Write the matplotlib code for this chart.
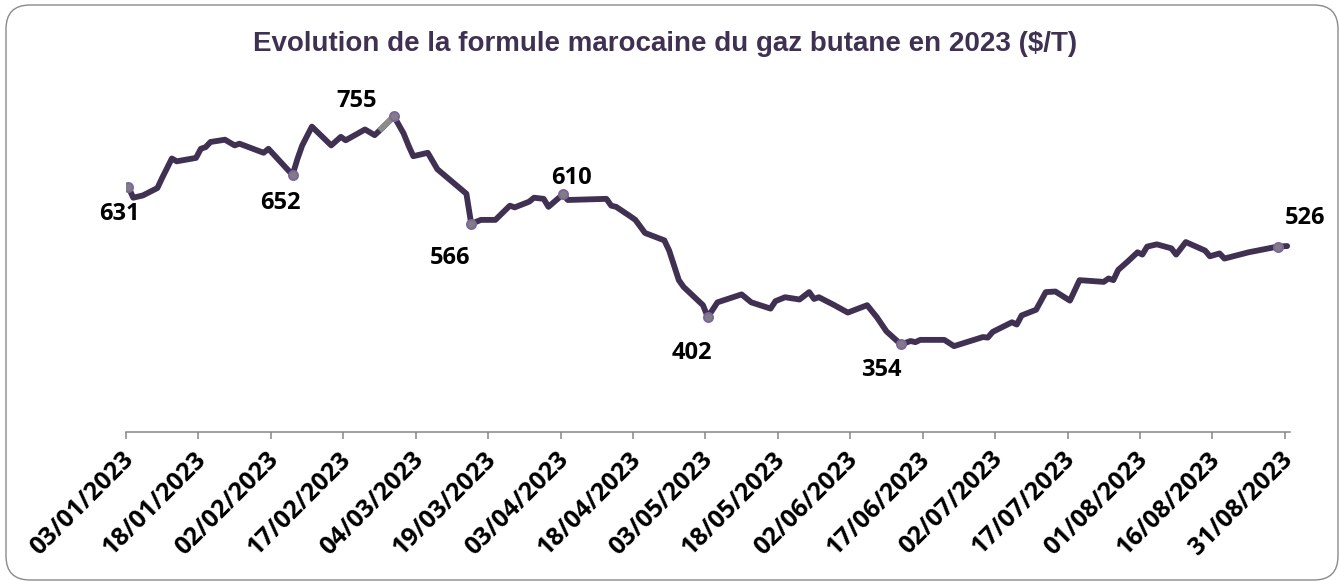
import matplotlib
matplotlib.use("Agg")
import matplotlib.pyplot as plt
from matplotlib.patches import FancyBboxPatch
from matplotlib.transforms import IdentityTransform, ScaledTranslation
import pandas as pd

title = "Evolution de la formule marocaine du gaz butane en 2023 ($/T)"

dates = [
    "03/01/2023", "04/01/2023", "06/01/2023", "09/01/2023", "10/01/2023", "12/01/2023",
    "13/01/2023", "17/01/2023", "18/01/2023", "19/01/2023", "20/01/2023", "23/01/2023",
    "25/01/2023", "26/01/2023", "31/01/2023", "01/02/2023", "06/02/2023", "07/02/2023",
    "08/02/2023", "10/02/2023", "14/02/2023", "16/02/2023", "17/02/2023", "21/02/2023",
    "23/02/2023", "24/02/2023", "27/02/2023", "01/03/2023", "02/03/2023", "03/03/2023",
    "06/03/2023", "08/03/2023", "14/03/2023", "15/03/2023", "17/03/2023", "20/03/2023",
    "23/03/2023", "24/03/2023", "27/03/2023", "28/03/2023", "30/03/2023", "31/03/2023",
    "03/04/2023", "04/04/2023", "12/04/2023", "13/04/2023", "14/04/2023", "17/04/2023",
    "18/04/2023", "20/04/2023", "24/04/2023", "25/04/2023", "27/04/2023", "28/04/2023",
    "02/05/2023", "03/05/2023", "05/05/2023", "10/05/2023", "12/05/2023", "16/05/2023",
    "17/05/2023", "19/05/2023", "22/05/2023", "24/05/2023", "25/05/2023", "26/05/2023",
    "29/05/2023", "01/06/2023", "05/06/2023", "07/06/2023", "09/06/2023", "12/06/2023",
    "14/06/2023", "15/06/2023", "16/06/2023", "21/06/2023", "23/06/2023", "29/06/2023",
    "30/06/2023", "01/07/2023", "05/07/2023", "06/07/2023", "07/07/2023", "10/07/2023",
    "12/07/2023", "14/07/2023", "17/07/2023", "19/07/2023", "24/07/2023", "25/07/2023",
    "26/07/2023", "27/07/2023", "29/07/2023", "31/07/2023", "01/08/2023", "02/08/2023",
    "04/08/2023", "07/08/2023", "08/08/2023", "10/08/2023", "14/08/2023", "15/08/2023",
    "17/08/2023", "18/08/2023", "23/08/2023", "29/08/2023", "31/08/2023",
]
values = [
    631, 612, 616, 629, 647, 681,
    676, 682, 698, 701, 710, 714,
    704, 707, 691, 698, 652, 680,
    704, 737, 704, 719, 713, 732,
    722, 730, 755, 725, 704, 685,
    691, 662, 619, 566, 573, 573,
    598, 595, 605, 612, 610, 596,
    618, 608, 610, 598, 596, 579,
    573, 550, 537, 519, 467, 455,
    423, 402, 428, 442, 428, 417,
    430, 437, 433, 446, 434, 437,
    424, 410, 423, 402, 377, 354,
    360, 358, 362, 362, 351, 367,
    366, 376, 393, 389, 405, 415,
    446, 447, 431, 467, 464, 470,
    467, 485, 500, 516, 512, 526,
    530, 523, 512, 534, 519, 509,
    514, 505, 516, 526, 527,
]

label_dates = ["03/01/2023", "06/02/2023", "27/02/2023", "15/03/2023",
               "03/04/2023", "03/05/2023", "12/06/2023", "29/08/2023"]
label_texts = ["631", "652", "755", "566", "610", "402", "354", "526"]
label_offsets = [(-9, -27), (-12, -28), (-37, 15), (-21, -34),
                 (8, 16), (-16, -36), (-20, -26), (28, 29)]

tick_dates = ["03/01/2023", "18/01/2023", "02/02/2023", "17/02/2023", "04/03/2023",
              "19/03/2023", "03/04/2023", "18/04/2023", "03/05/2023", "18/05/2023",
              "02/06/2023", "17/06/2023", "02/07/2023", "17/07/2023", "01/08/2023",
              "16/08/2023", "31/08/2023"]

line_color = "#403152"
axis_color = "#868686"
label_font = "Open Sans"

fig = plt.figure(figsize=(13.39, 5.81), dpi=100)
W, H = 1339, 581
ax = fig.add_axes([126 / W, (H - 432) / H, (1289.6 - 126) / W, (432 - 90.8) / H])

half = pd.Timedelta(hours=12)
x = pd.to_datetime(dates, format="%d/%m/%Y") + half
s = pd.Series(values, index=x)

ax.plot(s.index, s.values, color=line_color, lw=4.2, solid_capstyle="round",
        solid_joinstyle="round", zorder=3)

# gray segment leading to the peak
i_peak = dates.index("27/02/2023")
ax.plot(s.index[i_peak - 1:i_peak + 1], s.values[i_peak - 1:i_peak + 1],
        color="#8c8c8c", lw=4.2, solid_capstyle="butt", zorder=4)

for d, t, off in zip(label_dates, label_texts, label_offsets):
    xd = pd.to_datetime(d, format="%d/%m/%Y") + half
    yv = values[dates.index(d)]
    ax.plot([xd], [yv], marker="o", ms=6.5, mfc="#7f7f7f", mec="#8064a2",
            mew=1.4, zorder=5)
    ax.annotate(t, (xd, yv), xytext=off, textcoords="offset pixels",
                ha="center", va="center", fontsize=17, fontweight="bold",
                family=label_font, color="black", zorder=6)

ax.set_ylim(200, 800)
ax.set_xlim(pd.Timestamp("2023-01-03"), pd.Timestamp("2023-09-01"))

ticks = pd.to_datetime(tick_dates, format="%d/%m/%Y")
ax.set_xticks(ticks)
ax.set_xticklabels(tick_dates, rotation=45, ha="right", va="center",
                   rotation_mode="anchor", fontsize=18, fontweight="bold",
                   family=label_font, color="black")
ax.tick_params(axis="x", direction="out", length=5, width=1.1, color=axis_color, pad=12)
shift = ScaledTranslation(4 / 100, 0, fig.dpi_scale_trans)
for lab in ax.get_xticklabels():
    lab.set_transform(lab.get_transform() + shift)
ax.set_yticks([])
for side in ["left", "right", "top"]:
    ax.spines[side].set_visible(False)
ax.spines["bottom"].set_color(axis_color)
ax.spines["bottom"].set_linewidth(1.1)
ax.patch.set_visible(False)

fig.text(665 / W, (H - 44) / H, title, ha="center", va="center", fontsize=20,
         fontweight="bold", family="Liberation Sans", color="#3f3151")

border = FancyBboxPatch((6, 1), 1332, 575, boxstyle="round,pad=0,rounding_size=24",
                        transform=IdentityTransform(), facecolor="none",
                        edgecolor="#8a8a8a", lw=1.0)
fig.patches.append(border)

fig.savefig("out.png", dpi=100)
